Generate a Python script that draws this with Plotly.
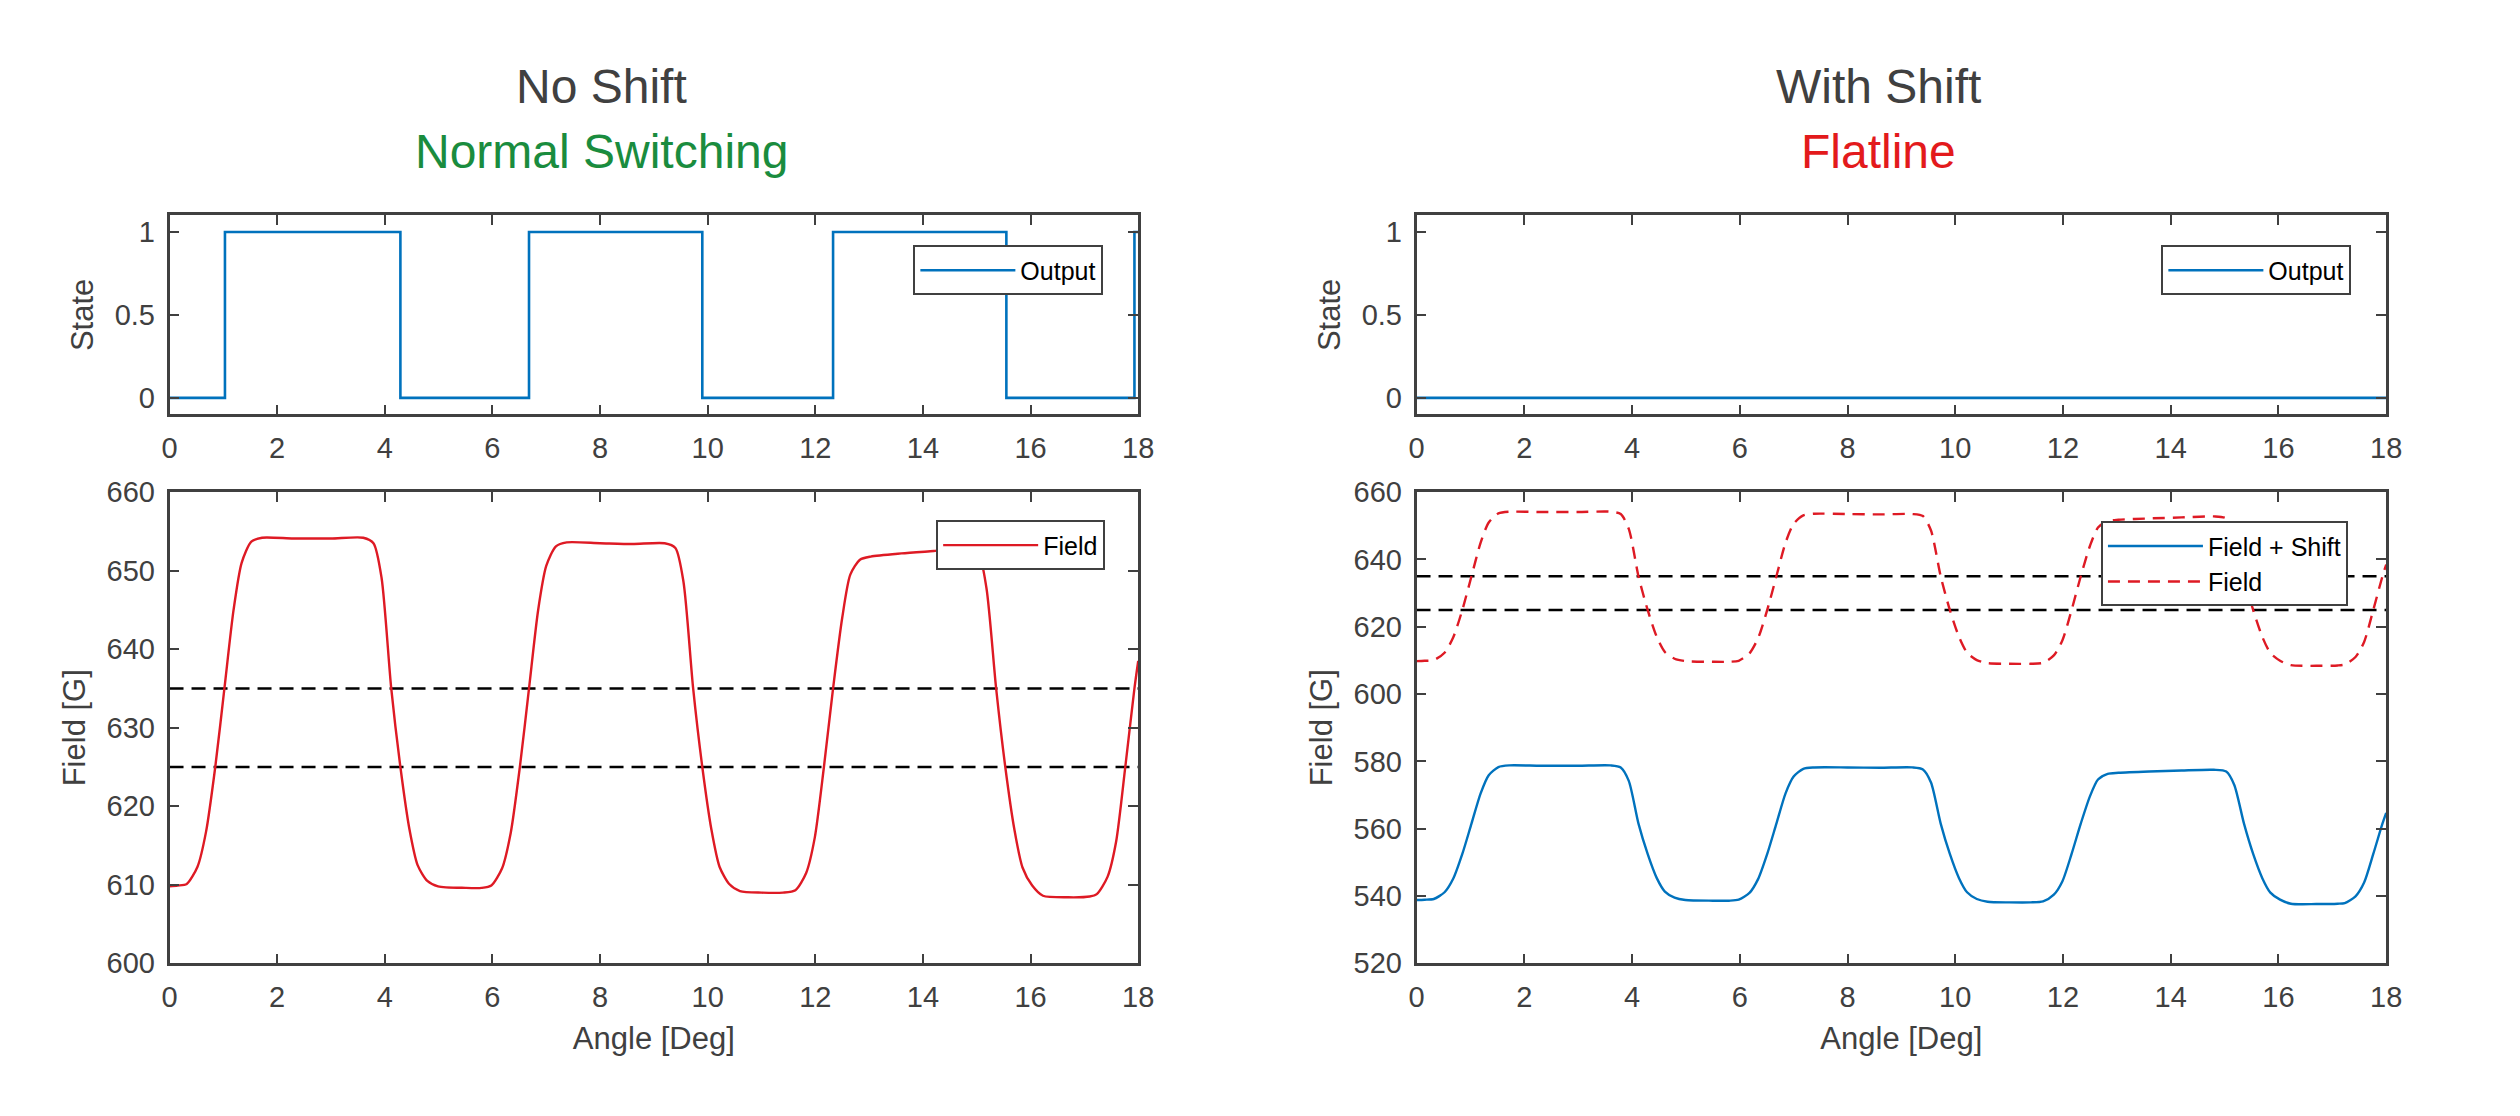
import plotly.graph_objs as go
from plotly.subplots import make_subplots

# switching output (step), angle in degrees
output_angle = [0, 1.03, 4.29, 6.68, 9.90, 12.33, 15.55, 17.93, 18]
output_state = [0, 1, 0, 1, 0, 1, 0, 1, 1]
flat_angle = [0, 18]
flat_state = [0, 0]

# field curve
field_angle = [0.0, 0.15, 0.32, 0.52, 0.68, 0.85, 1.02, 1.19, 1.34, 1.52, 1.72,
               2.3, 3.0, 3.6,
               3.79, 3.94, 4.12, 4.29, 4.46, 4.61, 4.79, 4.99,
               5.5, 5.8,
               5.98, 6.18, 6.34, 6.51, 6.68, 6.85, 7.0, 7.18, 7.38,
               8.0, 8.6, 9.2,
               9.4, 9.55, 9.73, 9.90, 10.07, 10.22, 10.40, 10.60,
               11.0, 11.4,
               11.63, 11.83, 11.99, 12.16, 12.33, 12.5, 12.65, 12.83, 13.03,
               13.6, 14.2, 14.8,
               15.03, 15.18, 15.36, 15.53, 15.70, 15.85, 16.03, 16.23,
               16.7, 17.1,
               17.23, 17.43, 17.59, 17.76, 17.93, 18.0]
field = [609.8, 609.9, 610.1, 612.3, 616.8, 625.0, 635.0, 645.0, 651.0, 653.7, 654.2,
         654.1, 654.1, 654.2,
         653.5, 649.1, 635.0, 625.0, 617.0, 612.5, 610.5, 609.8,
         609.6, 609.6,
         609.9, 612.1, 616.6, 625.0, 635.0, 645.0, 650.6, 653.1, 653.6,
         653.5, 653.4, 653.5,
         652.9, 648.6, 635.0, 625.0, 617.0, 612.3, 610.1, 609.2,
         609.0, 609.0,
         609.3, 611.5, 616.0, 625.0, 635.0, 644.0, 649.5, 651.4, 651.8,
         652.2, 652.5, 652.8,
         652.2, 647.8, 635.0, 625.0, 617.0, 612.2, 609.9, 608.6,
         608.4, 608.5,
         608.8, 611.0, 615.5, 625.0, 635.0, 638.5]
field_shift = [538.8, 538.9, 539.1, 541.1, 545.1, 552.5, 561.5, 570.5, 575.9, 578.3, 578.8,
               578.7, 578.7, 578.8,
               578.2, 574.2, 561.5, 552.5, 545.3, 541.3, 539.5, 538.8,
               538.6, 538.6,
               538.9, 540.9, 545.0, 552.5, 561.5, 570.5, 575.5, 577.8, 578.2,
               578.2, 578.1, 578.2,
               577.6, 573.7, 561.5, 552.5, 545.3, 541.1, 539.1, 538.3,
               538.1, 538.1,
               538.4, 540.4, 544.4, 552.5, 561.5, 569.6, 574.6, 576.3, 576.6,
               577.0, 577.3, 577.5,
               577.0, 573.0, 561.5, 552.5, 545.3, 541.0, 538.9, 537.7,
               537.6, 537.7,
               537.9, 539.9, 544.0, 552.5, 561.5, 564.7]

thresholds = [625, 635]

BLUE = '#0072BD'
RED = '#DE1A24'
AXIS = '#404040'
FONT = 'Liberation Sans, Arial, sans-serif'
W, H = 2520, 1116
OFF = 8  # default page margin of the html body


def px(v):
    return (v - OFF) / W


def py(v):
    return 1 - (v - OFF) / H


fig = make_subplots(rows=2, cols=2)

# left column
fig.add_trace(go.Scatter(x=output_angle, y=output_state, mode='lines', name='Output',
                         line=dict(color=BLUE, width=2.6, shape='hv'), legend='legend'),
              row=1, col=1)
for t in thresholds:
    fig.add_trace(go.Scatter(x=[0, 18], y=[t, t], mode='lines', showlegend=False,
                             line=dict(color='black', width=2.6, dash='14px,8px')),
                  row=2, col=1)
fig.add_trace(go.Scatter(x=field_angle, y=field, mode='lines', name='Field',
                         line=dict(color=RED, width=2.4, shape='spline', smoothing=0.7),
                         legend='legend2'),
              row=2, col=1)

# right column
fig.add_trace(go.Scatter(x=flat_angle, y=flat_state, mode='lines', name='Output',
                         line=dict(color=BLUE, width=2.6), legend='legend3'),
              row=1, col=2)
for t in thresholds:
    fig.add_trace(go.Scatter(x=[0, 18], y=[t, t], mode='lines', showlegend=False,
                             line=dict(color='black', width=2.6, dash='14px,8px')),
                  row=2, col=2)
fig.add_trace(go.Scatter(x=field_angle, y=field_shift, mode='lines', name='Field + Shift',
                         line=dict(color=BLUE, width=2.4, shape='spline', smoothing=0.7),
                         legend='legend4'),
              row=2, col=2)
fig.add_trace(go.Scatter(x=field_angle, y=field, mode='lines', name='Field',
                         line=dict(color=RED, width=2.4, dash='12px,8px', shape='spline', smoothing=0.7),
                         legend='legend4'),
              row=2, col=2)

axis_style = dict(showline=True, linecolor=AXIS, linewidth=2.5, mirror='ticks',
                  ticks='inside', ticklen=10, tickwidth=2, tickcolor=AXIS,
                  showgrid=False, zeroline=False, ticklabelstandoff=6,
                  tickfont=dict(family=FONT, size=29, color=AXIS),
                  title_font=dict(family=FONT, size=31, color=AXIS))

left_x = [px(163), px(1141)]
right_x = [px(1422), px(2401)]
top_y = [py(410), py(205)]
bot_y = [py(975), py(490)]

fig.update_xaxes(axis_style, range=[0, 18], dtick=2)
fig.update_xaxes(domain=left_x, row=1, col=1)
fig.update_xaxes(domain=left_x, row=2, col=1, title_text='Angle [Deg]', title_standoff=16)
fig.update_xaxes(domain=right_x, row=1, col=2)
fig.update_xaxes(domain=right_x, row=2, col=2, title_text='Angle [Deg]', title_standoff=16)

fig.update_yaxes(axis_style)
fig.update_yaxes(domain=top_y, range=[-0.1, 1.1], tickvals=[0, 0.5, 1], title_text='State',
                 title_standoff=12, row=1, col=1)
fig.update_yaxes(domain=top_y, range=[-0.1, 1.1], tickvals=[0, 0.5, 1], title_text='State',
                 title_standoff=12, row=1, col=2)
fig.update_yaxes(domain=bot_y, range=[600, 660], dtick=10, title_text='Field [G]',
                 title_standoff=12, row=2, col=1)
fig.update_yaxes(domain=bot_y, range=[520, 660], dtick=20, title_text='Field [G]',
                 title_standoff=12, row=2, col=2)

legend_style = dict(bgcolor='white', bordercolor=AXIS, borderwidth=2,
                    font=dict(family=FONT, size=25, color='black'),
                    xanchor='left', yanchor='top', itemwidth=95,
                    tracegroupgap=0)

title_font = dict(family=FONT, size=48)
fig.update_layout(
    width=W, height=H,
    margin=dict(l=0, r=0, t=0, b=0),
    paper_bgcolor='white', plot_bgcolor='white',
    font=dict(family=FONT, color=AXIS),
    legend=dict(legend_style, x=px(914), y=py(236)),
    legend2=dict(legend_style, x=px(937), y=py(519)),
    legend3=dict(legend_style, x=px(2174), y=py(236)),
    legend4=dict(legend_style, x=px(2113), y=py(520)),
    annotations=[
        dict(text='No Shift', x=px(599), y=py(72), xref='paper', yref='paper',
             xanchor='center', yanchor='middle', showarrow=False,
             font=dict(title_font, color=AXIS)),
        dict(text='Normal Switching', x=px(599), y=py(139), xref='paper', yref='paper',
             xanchor='center', yanchor='middle', showarrow=False,
             font=dict(title_font, color='#1A8C3E')),
        dict(text='With Shift', x=px(1888), y=py(72), xref='paper', yref='paper',
             xanchor='center', yanchor='middle', showarrow=False,
             font=dict(title_font, color=AXIS)),
        dict(text='Flatline', x=px(1888), y=py(139), xref='paper', yref='paper',
             xanchor='center', yanchor='middle', showarrow=False,
             font=dict(title_font, color='#E31A1C')),
    ],
)

fig.write_html("out.html")
